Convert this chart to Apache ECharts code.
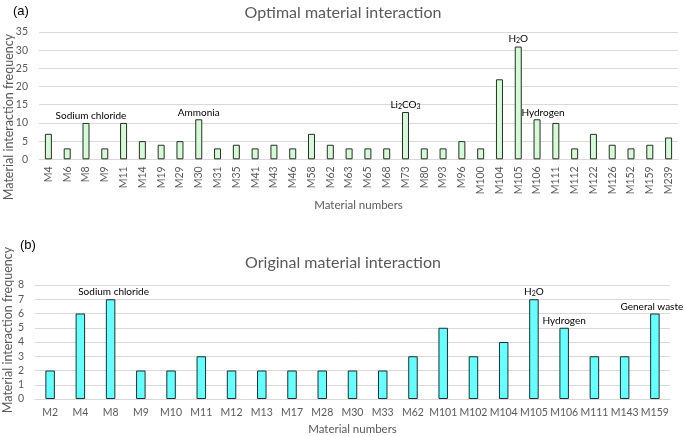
<!DOCTYPE html>
<html>
<head>
<meta charset="utf-8">
<script src="https://cdn.jsdelivr.net/npm/echarts@6/dist/echarts.min.js"></script>
<style>html,body{margin:0;padding:0;background:#fff}#c{width:685px;height:436px}</style>
</head>
<body>
<div id="c"></div>
<script>
// Panel (a): Optimal material interaction
const catsA = ['M4','M6','M8','M9','M11','M14','M19','M29','M30','M31','M35','M41','M43','M46','M58','M62','M63','M65','M68','M73','M80','M93','M96','M100','M104','M105','M106','M111','M112','M122','M126','M152','M159','M239'];
const valsA = [7,3,10,3,10,5,4,5,11,3,4,3,4,3,7,4,3,3,3,13,3,3,5,3,22,31,11,10,3,7,4,3,4,6];
const annotA = [['M8','Sodium chloride'],['M30','Ammonia'],['M73','Li{sub|2}CO{sub|3}'],['M105','H{sub|2}O'],['M106','Hydrogen']];
const ticksA = [0,5,10,15,20,25,30,35];

// Panel (b): Original material interaction
const catsB = ['M2','M4','M8','M9','M10','M11','M12','M13','M17','M28','M30','M33','M62','M101','M102','M104','M105','M106','M111','M143','M159'];
const valsB = [2,6,7,2,2,3,2,2,2,2,2,2,3,5,3,4,7,5,3,3,6];
const annotB = [['M8','Sodium chloride'],['M105','H{sub|2}O'],['M106','Hydrogen'],['M159','General waste']];
const ticksB = [0,1,2,3,4,5,6,7,8];

const FONT = 'Lato';
const GRAY = '#595959';
const labelOffsets = {'Sodium chloride':[5,0],'Hydrogen':[6,0]};

function buildData(cats, vals, annot, offs) {
  const map = {};
  annot.forEach(a => map[a[0]] = a[1]);
  return vals.map((v, i) => {
    const t = map[cats[i]];
    if (!t) return v;
    return {
      value: v,
      label: {
        show: true, position: 'top', distance: 2,
        offset: (offs && offs[t]) || [0,0],
        formatter: t,
        color: '#000', fontFamily: FONT, fontSize: 10,
        rich: { sub: { fontSize: 7, verticalAlign: 'bottom', padding: [4,0,0,0], color:'#000', fontFamily: FONT } }
      }
    };
  });
}

const chart = echarts.init(document.getElementById('c'), null, {renderer: 'canvas'});
const axisLabelStyle = {color: GRAY, fontFamily: FONT, fontSize: 10.5};
chart.setOption({
  animation: false,
  backgroundColor: '#fff',
  title: [
    {text: 'Optimal material interaction', left: 338, top: 0, textAlign: 'center',
     textStyle: {color: GRAY, fontFamily: FONT, fontSize: 16, fontWeight: 'normal'}},
    {text: '(a)', left: 8, top: 0, textStyle: {color: '#000', fontFamily: 'Liberation Sans', fontSize: 13, fontWeight: 'normal'}},
    {text: 'Original material interaction', left: 338, top: 250, textAlign: 'center',
     textStyle: {color: GRAY, fontFamily: FONT, fontSize: 16, fontWeight: 'normal'}},
    {text: '(b)', left: 15, top: 234, textStyle: {color: '#000', fontFamily: 'Liberation Sans', fontSize: 13, fontWeight: 'normal'}}
  ],
  graphic: [
    {type: 'text', x: 9, y: 117, rotation: Math.PI/2,
     style: {text: 'Material interaction frequency', fill: GRAY, font: '12.5px Lato', align: 'center', verticalAlign: 'middle'}},
    {type: 'text', x: 8, y: 330, rotation: Math.PI/2,
     style: {text: 'Material interaction frequency', fill: GRAY, font: '12.5px Lato', align: 'center', verticalAlign: 'middle'}}
  ],
  grid: [
    {left: 39, right: 7, top: 32, height: 127.3},
    {left: 35, right: 15, top: 285, height: 115}
  ],
  xAxis: [
    {gridIndex: 0, type: 'category', data: catsA,
     axisLine: {lineStyle: {color: '#d9d9d9'}}, axisTick: {show: false},
     axisLabel: Object.assign({rotate: 90, margin: 7, interval: 0}, axisLabelStyle),
     name: 'Material numbers', nameLocation: 'middle', nameGap: 40,
     nameTextStyle: {color: GRAY, fontFamily: FONT, fontSize: 11.5}},
    {gridIndex: 1, type: 'category', data: catsB,
     axisLine: {lineStyle: {color: '#d9d9d9'}}, axisTick: {show: false},
     axisLabel: Object.assign({margin: 8, interval: 0}, axisLabelStyle),
     name: 'Material numbers', nameLocation: 'middle', nameGap: 24,
     nameTextStyle: {color: GRAY, fontFamily: FONT, fontSize: 11.5}}
  ],
  yAxis: [
    {gridIndex: 0, type: 'value', min: ticksA[0], max: ticksA[ticksA.length-1], interval: ticksA[1]-ticksA[0],
     axisLine: {show: false}, axisTick: {show: false},
     axisLabel: Object.assign({margin: 11}, axisLabelStyle),
     splitLine: {lineStyle: {color: '#d9d9d9'}}},
    {gridIndex: 1, type: 'value', min: ticksB[0], max: ticksB[ticksB.length-1], interval: ticksB[1]-ticksB[0],
     axisLine: {show: false}, axisTick: {show: false},
     axisLabel: Object.assign({margin: 11}, axisLabelStyle),
     splitLine: {lineStyle: {color: '#d9d9d9'}}}
  ],
  series: [
    {type: 'bar', xAxisIndex: 0, yAxisIndex: 0, barWidth: 7,
     data: buildData(catsA, valsA, annotA, labelOffsets),
     itemStyle: {color: '#d4fcd4', borderColor: '#2b2b2b', borderWidth: 1}},
    {type: 'bar', xAxisIndex: 1, yAxisIndex: 1, barWidth: 9.5,
     data: buildData(catsB, valsB, annotB, {'Sodium chloride':[3,0], 'General waste':[-3,0]}),
     itemStyle: {color: '#66ffff', borderColor: '#1f2f2f', borderWidth: 1}}
  ]
});
</script>
</body>
</html>
